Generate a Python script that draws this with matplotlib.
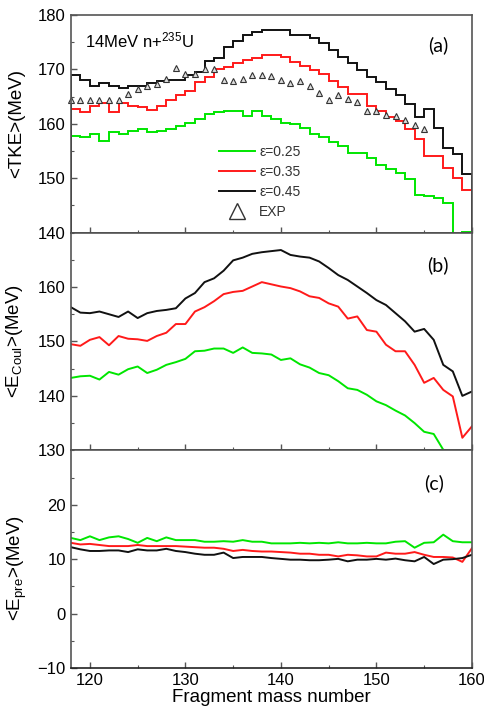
import numpy as np
import matplotlib
matplotlib.use("Agg")
import matplotlib.pyplot as plt
from matplotlib.lines import Line2D
from matplotlib.ticker import MultipleLocator

plt.rcParams["font.family"] = ["Liberation Sans", "DejaVu Sans"]
plt.rcParams["mathtext.default"] = "regular"

# ---------------- data ----------------
# panel (a): mean TKE, step histogram, one bin per mass number 118..159
bin_edges = np.arange(118, 161)
tke_025 = [157.8, 157.5, 158.1, 156.9, 158.4, 158.1, 158.7, 159.0, 158.4, 158.7,
           159.0, 159.6, 160.2, 160.8, 161.8, 162.1, 162.4, 162.4, 161.5, 162.4,
           161.5, 160.9, 160.1, 159.9, 159.3, 158.1, 157.5, 156.6, 156.0, 154.7,
           154.7, 153.8, 152.5, 151.6, 151.0, 149.8, 147.0, 146.7, 146.4, 145.4,
           138.0, 140.1]
tke_035 = [162.7, 162.1, 163.3, 163.8, 162.1, 163.8, 163.3, 163.0, 162.5, 163.3,
           164.3, 165.2, 166.1, 167.7, 168.6, 170.0, 170.4, 171.1, 171.7, 172.0,
           172.6, 172.6, 172.3, 171.4, 170.7, 169.8, 169.2, 167.8, 166.7, 165.5,
           165.5, 163.3, 162.4, 161.2, 160.6, 159.0, 157.2, 154.1, 154.1, 151.9,
           150.1, 147.9]
tke_045 = [169.0, 168.0, 167.0, 167.5, 167.0, 166.6, 167.0, 167.0, 167.5, 167.8,
           168.0, 168.0, 169.0, 169.5, 171.5, 172.0, 174.1, 175.2, 176.3, 176.9,
           177.2, 177.2, 177.2, 176.3, 176.3, 175.7, 174.8, 173.5, 172.3, 171.1,
           169.8, 168.6, 167.7, 166.4, 165.2, 163.7, 161.2, 162.7, 159.3, 155.6,
           154.4, 150.7]

exp_mass = np.arange(118, 156)
exp_tke = [164.4, 164.4, 164.4, 164.4, 164.4, 164.4, 165.4, 166.3, 167.0, 167.3,
           168.3, 170.2, 169.2, 169.2, 170.1, 170.0, 168.1, 167.8, 168.3, 169.0,
           169.0, 168.7, 168.1, 167.5, 167.8, 166.9, 165.6, 164.3, 165.2, 164.6,
           164.0, 162.3, 162.3, 161.7, 161.5, 160.7, 159.8, 159.0]

# panels (b) and (c): one point per mass number 118..160
mass = np.arange(118, 161)
coul_025 = [143.3, 143.6, 143.7, 143.0, 144.4, 143.9, 144.9, 145.4, 144.2, 144.8,
            145.7, 146.2, 146.8, 148.2, 148.3, 148.7, 148.7, 147.9, 148.9, 147.9,
            147.8, 147.6, 146.6, 146.9, 145.8, 145.2, 144.2, 143.8, 142.7, 141.4,
            141.1, 140.2, 139.0, 138.3, 137.3, 136.4, 135.0, 133.4, 133.0, 130.1,
            129.8, np.nan, np.nan]
coul_035 = [149.5, 149.2, 150.3, 150.8, 149.3, 151.0, 150.5, 150.4, 150.1, 151.0,
            151.6, 153.2, 153.2, 155.5, 156.3, 157.4, 158.7, 159.1, 159.3, 160.1,
            160.9, 160.5, 160.1, 159.8, 159.2, 158.3, 158.0, 157.0, 156.4, 154.2,
            154.6, 152.1, 151.8, 149.4, 148.2, 148.2, 145.7, 142.4, 143.3, 141.1,
            139.9, 132.3, 134.4]
coul_045 = [156.3, 155.3, 155.2, 155.5, 155.0, 154.5, 155.5, 154.3, 155.2, 155.6,
            155.8, 156.1, 157.9, 158.9, 160.9, 161.6, 163.0, 164.9, 165.4, 166.1,
            166.4, 166.6, 166.8, 165.9, 165.6, 165.4, 164.7, 163.5, 162.2, 161.3,
            160.1, 158.9, 157.6, 156.7, 155.2, 153.7, 151.8, 152.3, 150.3, 145.7,
            144.5, 140.0, 140.8]

pre_025 = [13.9, 13.5, 14.2, 13.5, 14.0, 14.2, 13.7, 13.0, 13.9, 13.3,
           14.0, 13.5, 13.5, 13.5, 13.2, 13.2, 13.3, 13.2, 13.5, 13.2,
           13.2, 12.9, 12.9, 12.9, 13.0, 12.9, 13.0, 12.9, 13.1, 12.9,
           12.9, 13.0, 12.9, 12.9, 13.2, 13.3, 12.1, 13.0, 13.1, 14.5,
           13.3, 13.1, 13.1]
pre_035 = [13.0, 12.7, 12.8, 12.6, 12.4, 12.4, 12.4, 12.6, 12.4, 12.4,
           12.4, 12.4, 12.3, 12.2, 12.1, 12.1, 11.9, 11.5, 11.7, 11.5,
           11.4, 11.4, 11.3, 11.2, 11.0, 11.0, 10.8, 10.8, 10.5, 10.8,
           10.7, 10.5, 10.5, 11.2, 11.0, 11.0, 11.3, 10.8, 10.4, 10.4,
           10.3, 9.5, 12.0]
pre_045 = [12.2, 11.8, 11.5, 11.5, 11.6, 11.6, 11.3, 11.8, 11.6, 11.6,
           11.9, 11.5, 11.3, 11.0, 10.8, 10.8, 11.2, 10.2, 10.4, 10.4,
           10.4, 10.2, 10.05, 9.9, 9.9, 9.8, 9.8, 9.9, 10.05, 9.6,
           9.9, 9.9, 10.05, 9.9, 10.1, 9.8, 9.6, 10.4, 9.1, 9.9,
           10.0, 10.2, 10.8]

labels = ["\u03b5=0.25", "\u03b5=0.35", "\u03b5=0.45"]
colors = ["#00e600", "#ff1a1a", "#111111"]
spine_c = "#555555"
lw = 1.4

fig, axes = plt.subplots(3, 1, figsize=(4.85, 7.11), dpi=100, sharex=True)
fig.subplots_adjust(left=0.146, right=0.973, top=0.979, bottom=0.0605, hspace=0)
ax1, ax2, ax3 = axes

# (a) TKE
for vals, c in zip([tke_025, tke_035, tke_045], colors):
    ax1.stairs(vals, bin_edges, color=c, lw=lw)
ax1.plot(exp_mass, exp_tke, ls="none", marker="^", ms=4.2, mfc="#dddddd",
         mec="#333333", mew=0.8, clip_on=False)
ax1.set_ylim(140, 180)
ax1.yaxis.set_major_locator(MultipleLocator(10))
ax1.yaxis.set_minor_locator(MultipleLocator(5))
ax1.set_ylabel("<TKE>(MeV)", fontsize=13.5)
ax1.text(0.035, 0.93, "14MeV n+$^{235}$U", transform=ax1.transAxes,
         fontsize=12, va="top", ha="left")
ax1.text(0.915, 0.86, "(a)", transform=ax1.transAxes, fontsize=14,
         ha="center", va="center", family=["Lato", "DejaVu Sans"])
handles = [Line2D([], [], color=c, lw=lw) for c in colors]
handles.append(Line2D([], [], ls="none", marker="^", ms=12, mfc="none",
                      mec="#333333", mew=1.0))
leg = ax1.legend(handles, labels + ["EXP"], loc="upper left",
                 bbox_to_anchor=(0.355, 0.43), frameon=False, fontsize=10,
                 handlelength=2.6, handletextpad=0.3, labelspacing=0.45,
                 borderaxespad=0)
for t in leg.get_texts():
    t.set_color("#333333")

# (b) Coulomb energy
for vals, c in zip([coul_025, coul_035, coul_045], colors):
    ax2.plot(mass, vals, color=c, lw=lw)
ax2.set_ylim(130, 170)
ax2.set_yticks([130, 140, 150, 160])
ax2.yaxis.set_minor_locator(MultipleLocator(5))
ax2.set_ylabel("<E$_{Coul}$>(MeV)", fontsize=13.5)
ax2.text(0.915, 0.85, "(b)", transform=ax2.transAxes, fontsize=14,
         ha="center", va="center", family=["Lato", "DejaVu Sans"])

# (c) pre-scission energy
for vals, c in zip([pre_025, pre_035, pre_045], colors):
    ax3.plot(mass, vals, color=c, lw=lw)
ax3.set_ylim(-10, 30)
ax3.set_yticks([-10, 0, 10, 20])
ax3.yaxis.set_minor_locator(MultipleLocator(5))
ax3.set_ylabel("<E$_{pre}$>(MeV)", fontsize=13.5)
ax3.text(0.905, 0.85, "(c)", transform=ax3.transAxes, fontsize=14,
         ha="center", va="center", family=["Lato", "DejaVu Sans"])
ax3.set_xlim(118, 160)
ax3.xaxis.set_major_locator(MultipleLocator(10))
ax3.xaxis.set_minor_locator(MultipleLocator(5))
ax3.set_xlabel("Fragment mass number", fontsize=13.5, labelpad=1)

for ax in axes:
    ax.tick_params(which="both", direction="in", labelsize=12, color=spine_c,
                   top=False, right=False)
    ax.tick_params(which="major", length=4.5, width=1)
    ax.tick_params(which="minor", length=2.5, width=0.8)
    ax.yaxis.set_label_coords(-0.115, 0.5)
    for s in ax.spines.values():
        s.set_color(spine_c)
        s.set_linewidth(1.2)
    ax.spines["bottom"].set_color("#222222")
ax3.yaxis.set_label_coords(-0.105, 0.46)

fig.savefig("out.png", dpi=100)
